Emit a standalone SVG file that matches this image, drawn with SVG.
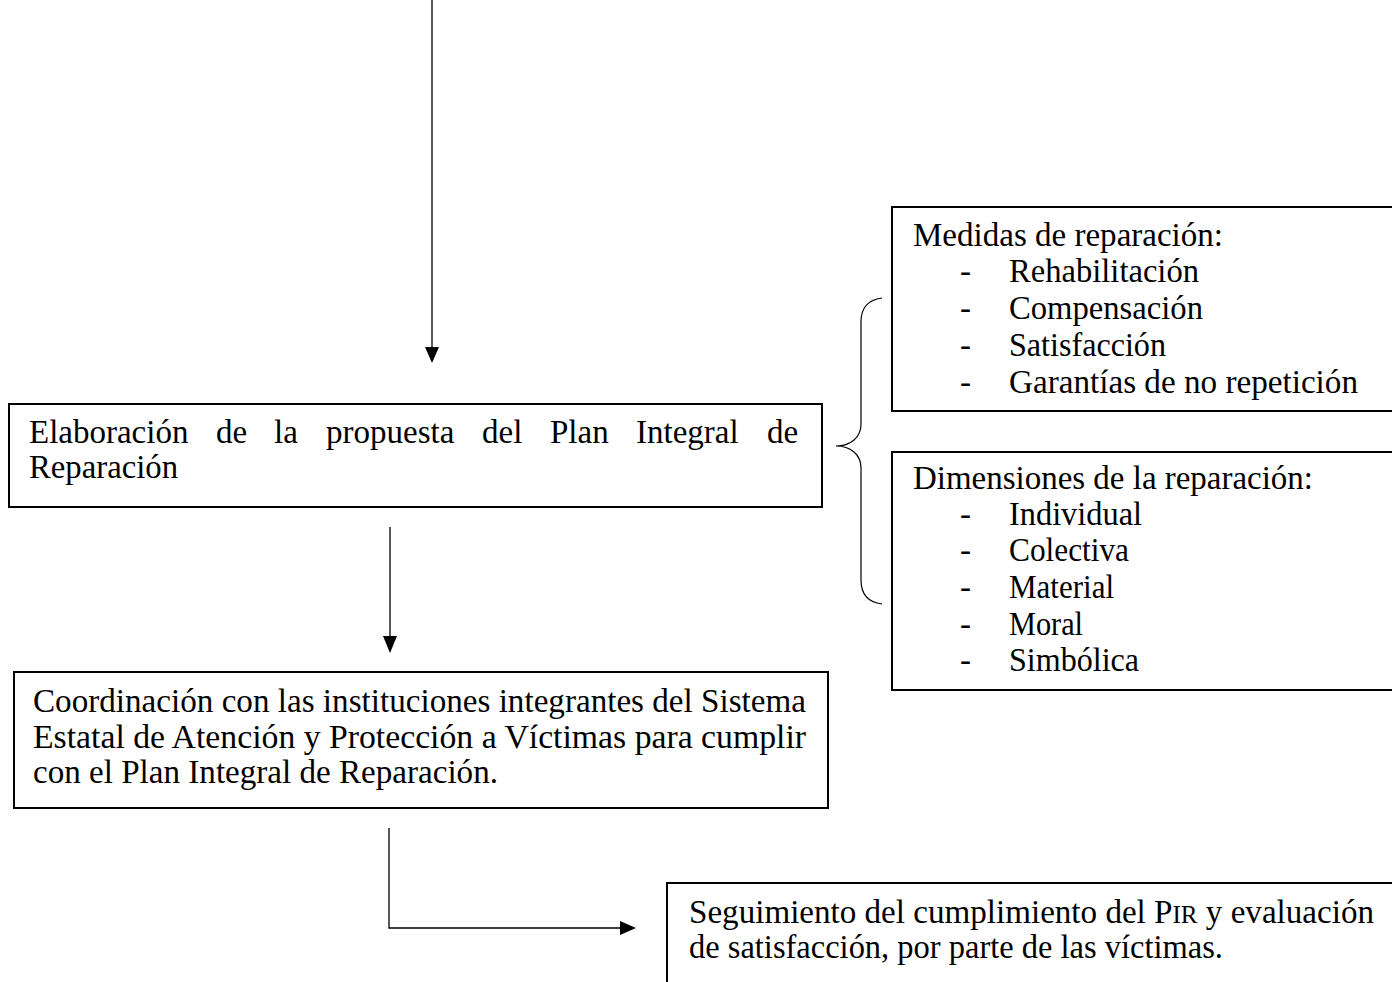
<svg xmlns="http://www.w3.org/2000/svg" width="1392" height="982" viewBox="0 0 1392 982">
  <style>
    .box { fill: #ffffff; stroke: #000000; stroke-width: 2; }
    .line { fill: none; stroke: #000000; stroke-width: 1.3; }
    .brace { fill: none; stroke: #000000; stroke-width: 1.2; }
    .head { fill: #000000; stroke: none; }
    text { font-family: "Liberation Serif", "Times New Roman", serif; font-size: 33px; fill: #000000; }
  </style>
  <rect width="1392" height="982" fill="#ffffff"/>

  <!-- connectors -->
  <g id="connectors">
    <line class="line" x1="432" y1="0" x2="432" y2="348"/>
    <polygon class="head" points="425,347 439,347 432,363"/>
    <line class="line" x1="390" y1="527" x2="390" y2="637"/>
    <polygon class="head" points="383,636 397,636 390,653"/>
    <path class="line" d="M389,828 V928 H621"/>
    <polygon class="head" points="620,921 620,935 636,928"/>
    <path class="brace" d="M882,298 C866,300 861,310 861,322 V424 C861,438 850,446 836,446 C850,446 861,454 861,468 V580 C861,592 866,602 882,604"/>
  </g>

  <!-- proposal of the plan (justified first line) -->
  <g id="node-elaboracion">
    <rect class="box" x="9" y="404" width="813" height="103"/>
    <text y="443">
      <tspan x="29">Elaboración</tspan>
      <tspan x="216">de</tspan>
      <tspan x="274">la</tspan>
      <tspan x="326">propuesta</tspan>
      <tspan x="482">del</tspan>
      <tspan x="550">Plan</tspan>
      <tspan x="636">Integral</tspan>
      <tspan x="767">de</tspan>
    </text>
    <text x="29" y="478" textLength="149" lengthAdjust="spacingAndGlyphs">Reparación</text>
  </g>

  <!-- coordination with institutions -->
  <g id="node-coordinacion">
    <rect class="box" x="14" y="672" width="814" height="136"/>
    <text x="33" y="712" textLength="773" lengthAdjust="spacingAndGlyphs">Coordinación con las instituciones integrantes del Sistema</text>
    <text x="33" y="748" textLength="773" lengthAdjust="spacingAndGlyphs">Estatal de Atención y Protección a Víctimas para cumplir</text>
    <text x="33" y="783" textLength="465" lengthAdjust="spacingAndGlyphs">con el Plan Integral de Reparación.</text>
  </g>

  <!-- follow-up -->
  <g id="node-seguimiento">
    <rect class="box" x="667" y="883" width="800" height="200"/>
    <text x="689" y="923" textLength="685" lengthAdjust="spacingAndGlyphs">Seguimiento del cumplimiento del P<tspan font-size="25">IR</tspan> y evaluación</text>
    <text x="689" y="958" textLength="534" lengthAdjust="spacingAndGlyphs">de satisfacción, por parte de las víctimas.</text>
  </g>

  <!-- measures -->
  <g id="node-medidas">
    <rect class="box" x="892" y="207" width="600" height="204"/>
    <text x="913" y="246" textLength="310" lengthAdjust="spacingAndGlyphs">Medidas de reparación:</text>
    <text x="960" y="282">-</text><text x="1009" y="282" textLength="190" lengthAdjust="spacingAndGlyphs">Rehabilitación</text>
    <text x="960" y="319">-</text><text x="1009" y="319" textLength="194" lengthAdjust="spacingAndGlyphs">Compensación</text>
    <text x="960" y="356">-</text><text x="1009" y="356" textLength="157" lengthAdjust="spacingAndGlyphs">Satisfacción</text>
    <text x="960" y="393">-</text><text x="1009" y="393" textLength="349" lengthAdjust="spacingAndGlyphs">Garantías de no repetición</text>
  </g>

  <!-- dimensions -->
  <g id="node-dimensiones">
    <rect class="box" x="892" y="452" width="600" height="238"/>
    <text x="913" y="489" textLength="400" lengthAdjust="spacingAndGlyphs">Dimensiones de la reparación:</text>
    <text x="960" y="525">-</text><text x="1009" y="525" textLength="133" lengthAdjust="spacingAndGlyphs">Individual</text>
    <text x="960" y="561">-</text><text x="1009" y="561" textLength="120" lengthAdjust="spacingAndGlyphs">Colectiva</text>
    <text x="960" y="598">-</text><text x="1009" y="598" textLength="105" lengthAdjust="spacingAndGlyphs">Material</text>
    <text x="960" y="635">-</text><text x="1009" y="635" textLength="74" lengthAdjust="spacingAndGlyphs">Moral</text>
    <text x="960" y="671">-</text><text x="1009" y="671" textLength="130" lengthAdjust="spacingAndGlyphs">Simbólica</text>
  </g>
</svg>
